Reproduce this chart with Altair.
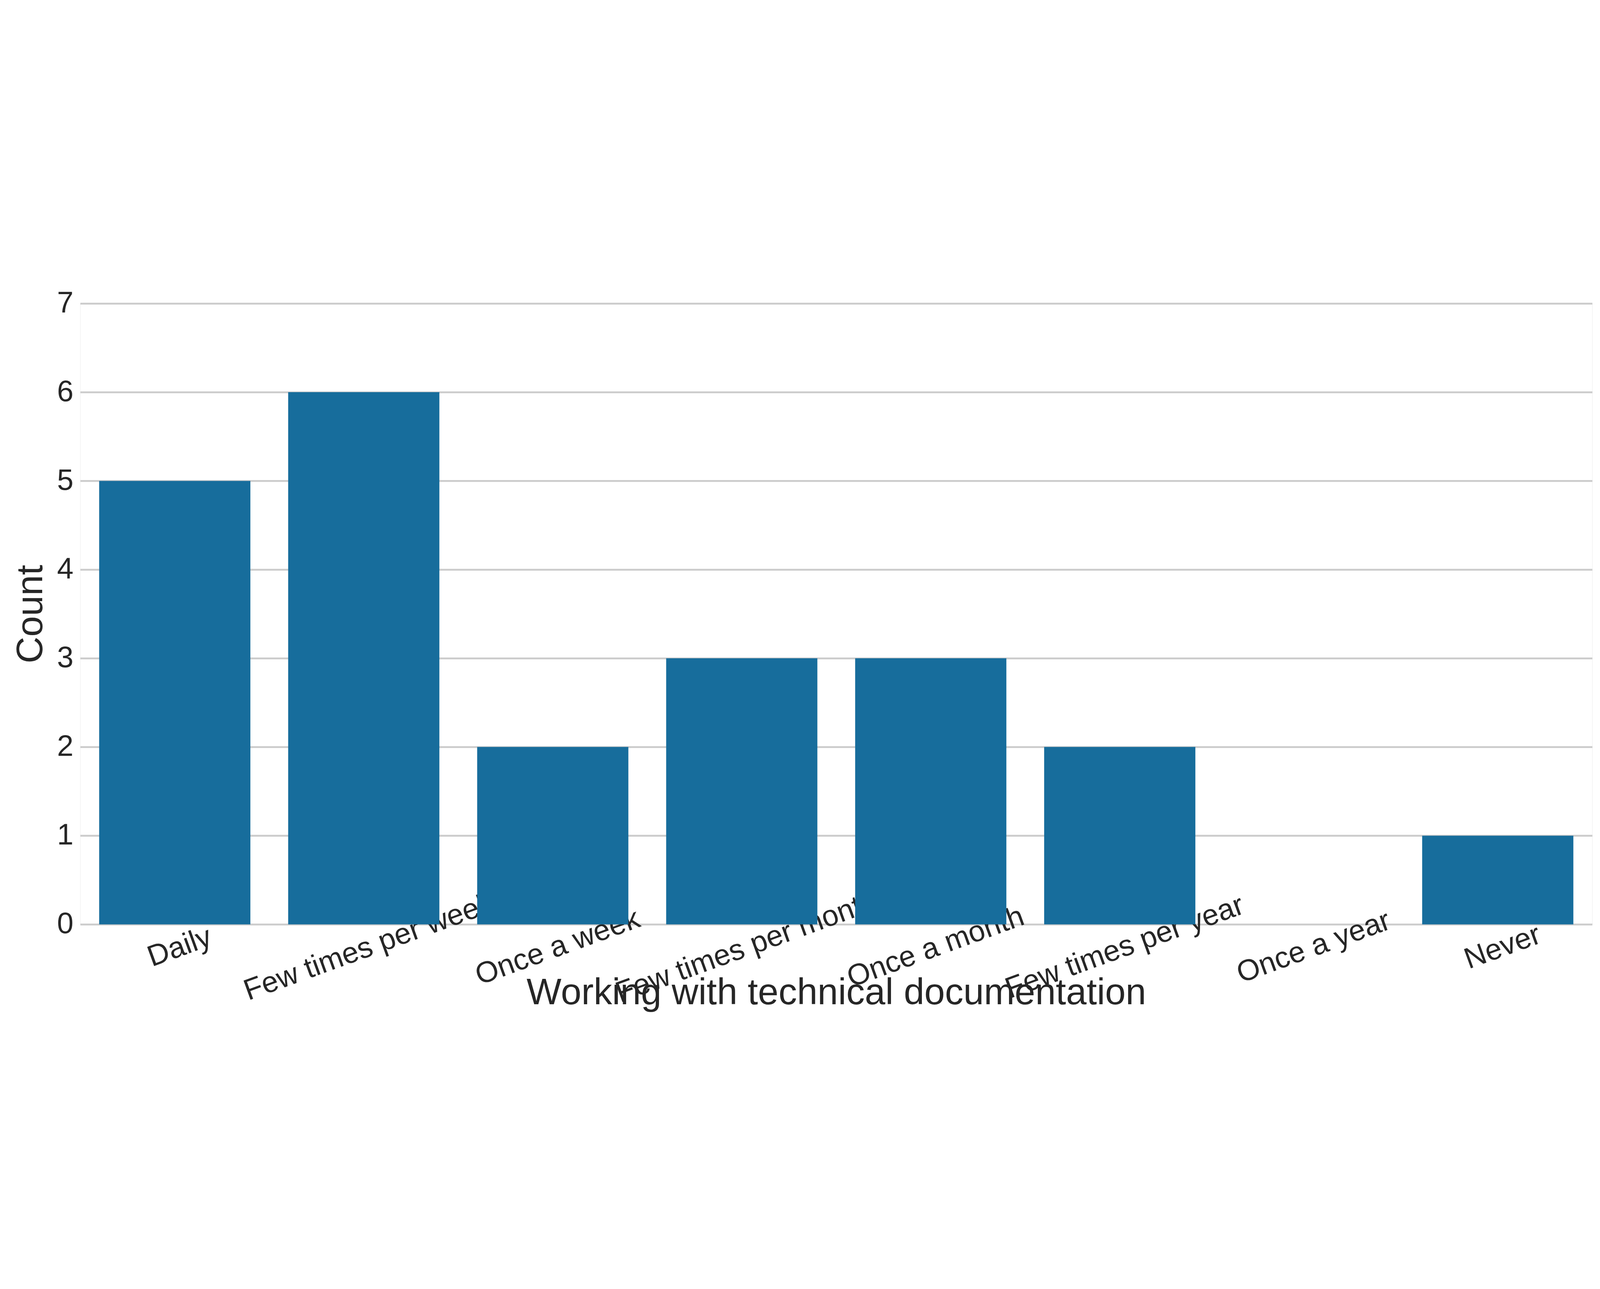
import altair as alt
import pandas as pd

categories = ["Daily", "Few times per week", "Once a week", "Few times per month",
              "Once a month", "Few times per year", "Once a year", "Never"]
counts = [5, 6, 2, 3, 3, 2, 0, 1]

df = pd.DataFrame({"cat": categories, "count": counts})

chart = alt.Chart(df).mark_bar(color="#176d9c").encode(
    x=alt.X("cat:N", sort=categories, title="Working with technical documentation",
            scale=alt.Scale(paddingInner=0.2, paddingOuter=0.1),
            axis=alt.Axis(labelAngle=-20, labelAlign="center", labelBaseline="top",
                          labelFontSize=128, titleFontSize=160, titleFontWeight="normal",
                          ticks=False, labelPadding=40, titlePadding=20, grid=False,
                          labelLimit=3000, labelOverlap=False,
                          domain=False, labelColor="#262626", titleColor="#262626")),
    y=alt.Y("count:Q", title="Count", scale=alt.Scale(domain=[0, 7]),
            axis=alt.Axis(values=list(range(8)), labelFontSize=128, titleFontSize=160,
                          titleFontWeight="normal", ticks=False, domain=False,
                          labelPadding=30, titlePadding=30, gridColor="#cccccc",
                          gridWidth=8, labelColor="#262626", titleColor="#262626")),
).properties(
    width=6900, height=3260,
    autosize=alt.AutoSizeParams(type="fit", contains="padding"),
    padding={"left": 40, "top": 110, "right": 20, "bottom": 20},
).configure_view(
    stroke="#cccccc", strokeWidth=8
).configure(font="Liberation Sans")

chart.save("out.html", embed_options={"renderer": "svg", "actions": False})
